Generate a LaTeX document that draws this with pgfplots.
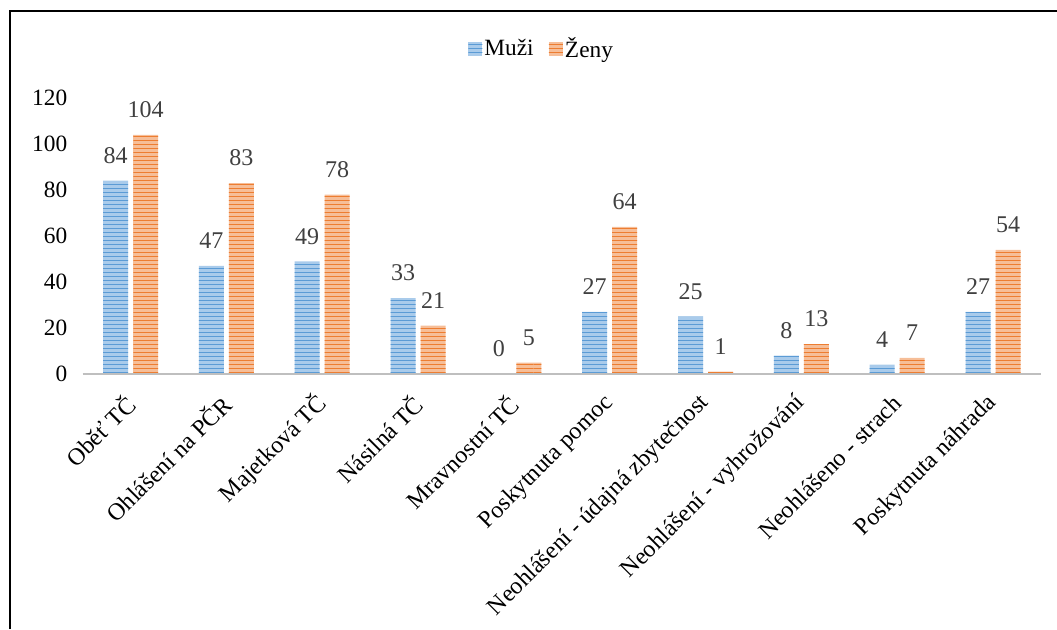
\documentclass[border=0pt]{standalone}
\usepackage{fontspec}
\setmainfont{Liberation Serif}
\usepackage{pgfplots}
\pgfplotsset{compat=1.18}
\usetikzlibrary{patterns}
\definecolor{bluedark}{HTML}{5B9BD5}
\definecolor{bluelight}{HTML}{A9CBEB}
\definecolor{orangedark}{HTML}{ED7D31}
\definecolor{orangelight}{HTML}{F6BE98}
\definecolor{lbl}{HTML}{404040}
\definecolor{axgray}{HTML}{BFBFBF}
\begin{document}
\begin{tikzpicture}
\useasboundingbox (0pt,0pt) rectangle (792.75pt,471.75pt);
\draw[line width=1.1pt] (7.5pt,0pt) -- (7.5pt,463.5pt) -- (792.75pt,463.5pt);
\begin{axis}[
  at={(61.95pt,191.25pt)}, anchor=south west,
  scale only axis, width=718.8pt, height=207pt,
  xmin=-0.5, xmax=9.5, ymin=0, ymax=120,
  clip=false,
  axis line style={draw=none},
  major tick length=0pt,
  ytick={0,20,40,60,80,100,120},
  yticklabel style={font=\fontsize{17.5}{19}\selectfont, xshift=-8pt},
  /pgf/number format/assume math mode=true,
  xtick={0,...,9},
  xticklabels={Oběť TČ,Ohlášení na PČR,Majetková TČ,Násilná TČ,Mravnostní TČ,Poskytnuta pomoc,Neohlášení - údajná zbytečnost,Neohlášení - vyhrožování,Neohlášeno - strach,Poskytnuta náhrada},
  xticklabel style={font=\fontsize{18}{20}\selectfont, rotate=45, anchor=east, inner sep=0pt},
  xticklabel shift=19pt,
  ybar, bar width=18.75pt,
  nodes near coords,
  every node near coord/.append style={font=\fontsize{18}{20}\selectfont, color=lbl, anchor=south, inner sep=0pt, yshift=12.5pt},
  legend style={at={(axis description cs:0.479,1.178)}, anchor=center, draw=none, legend columns=2, font=\fontsize{17.5}{19}\selectfont, /tikz/every even column/.append style={column sep=10pt}, nodes={inner sep=1.5pt}},
  legend image code/.code={\fill[#1] (0pt,-5pt) rectangle (10.5pt,5pt);},
]
\addplot[bar shift=-11.25pt, draw=none, fill=bluelight, postaction={pattern=horizontal lines, pattern color=bluedark}]
  coordinates {(0,84) (1,47) (2,49) (3,33) (4,0) (5,27) (6,25) (7,8) (8,4) (9,27)};
\addplot[bar shift=11.25pt, draw=none, fill=orangelight, postaction={pattern=horizontal lines, pattern color=orangedark}]
  coordinates {(0,104) (1,83) (2,78) (3,21) (4,5) (5,64) (6,1) (7,13) (8,7) (9,54)};
\legend{Muži,Ženy}
\draw[axgray, line width=1.6pt] (axis cs:-0.5,0) -- (axis cs:9.5,0);
\end{axis}
\end{tikzpicture}
\end{document}
